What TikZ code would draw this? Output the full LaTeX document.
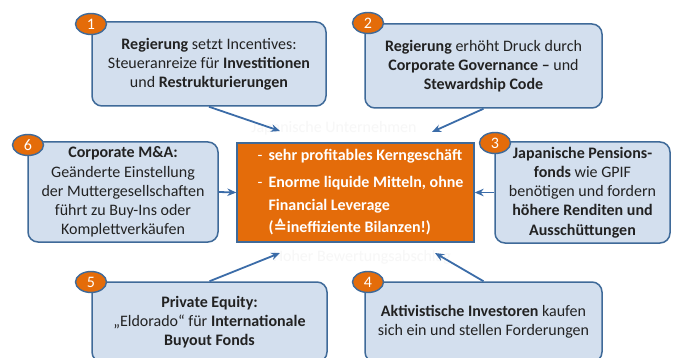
\documentclass[tikz,border=0pt]{standalone}
\usepackage{fontspec}
\setmainfont{Carlito}
\newfontfamily\symfont{DejaVu Sans}
\usetikzlibrary{arrows.meta,shapes.geometric}
\definecolor{boxfill}{HTML}{D3DFEE}
\definecolor{boxline}{HTML}{3F6A99}
\definecolor{arrowblue}{HTML}{3B6CA8}
\definecolor{coreorange}{HTML}{E46C0A}
\definecolor{txt}{HTML}{222222}
\begin{document}
\begin{tikzpicture}[x=1pt,y=-1pt,
  infobox/.style={draw=boxline, line width=1.5pt, fill=boxfill, rounded corners=10pt,
    inner sep=0pt, align=center, text=txt, font=\fontsize{16}{19.2}\selectfont},
  corebox/.style={draw=boxline, line width=1.3pt, fill=coreorange, inner sep=0pt,
    align=left, text=white, font=\bfseries\fontsize{16}{22.5}\selectfont},
  badge/.style={ellipse, draw=boxline, line width=1.4pt, fill=coreorange,
    minimum width=31pt, minimum height=21pt, inner sep=0pt, text=white,
    font=\fontsize{16}{16}\selectfont},
  ghost/.style={text=black!3, font=\fontsize{16}{16}\selectfont},
  link/.style={draw=arrowblue, line width=1.8pt, -{Stealth[length=9pt,width=7.5pt]}},
]
\useasboundingbox (0,0) rectangle (677,358);
\clip (0,0) rectangle (677,358);
\fill[white] (0,0) rectangle (677,358);

% faint captions around the core box
\node[ghost] (capTop) at (334,128) {Japanische Unternehmen};
\node[ghost] (capBot) at (362,257) {Hoher Bewertungsabschlag};

% core box (lines padded on the left to sit a little right of centre)
\node[corebox, minimum width=237pt, minimum height=99pt] (core) at (355.5,192.5)
  {\hspace*{10pt}\makebox[11pt][l]{\mdseries-}sehr profitables Kerngeschäft\\[4.5pt]
   \hspace*{10pt}\makebox[11pt][l]{\mdseries-}Enorme liquide Mitteln, ohne\\
   \hspace*{21pt}Financial Leverage\\
   \hspace*{21pt}({\symfont ≙}ineffiziente Bilanzen!)};

% driver boxes
\node[infobox, minimum width=234pt, minimum height=84pt] (b1) at (209,64)
  {\textbf{Regierung} setzt Incentives:\\
   Steueranreize für \textbf{Investitionen}\\
   und \textbf{Restrukturierungen}};
\node[infobox, minimum width=237pt, minimum height=84pt] (b2) at (483.5,66)
  {\textbf{Regierung} erhöht Druck durch\\
   \textbf{Corporate Governance –} und\\
   \textbf{Stewardship Code}};
\node[infobox, minimum width=175pt, minimum height=101pt] (b3) at (582.5,192.5)
  {\textbf{Japanische Pensions-}\\
   \textbf{fonds} wie GPIF\\
   benötigen und fordern\\
   \textbf{höhere Renditen und}\\
   \textbf{Ausschüttungen}};
\node[infobox, minimum width=237pt, minimum height=80pt] (b4) at (483.5,322)
  {\textbf{Aktivistische Investoren} kaufen\\
   sich ein und stellen Forderungen};
\node[infobox, minimum width=235pt, minimum height=80pt] (b5) at (209.5,322)
  {\textbf{Private Equity:}\\
   „Eldorado“ für \textbf{Internationale}\\
   \textbf{Buyout Fonds}};
\node[infobox, minimum width=190pt, minimum height=100pt] (b6) at (123,192)
  {\textbf{Corporate M\&A:}\\
   Geänderte Einstellung\\
   der Muttergesellschaften\\
   führt zu Buy-Ins oder\\
   Komplettverkäufen};

% number badges
\node[badge] (n1) at (91,24) {1};
\node[badge] (n2) at (368,23) {2};
\node[badge] (n3) at (495,143) {3};
\node[badge] (n4) at (368,282) {4};
\node[badge] (n5) at (91,282) {5};
\node[badge] (n6) at (28,145) {6};

% arrow targets near the core box
\coordinate (t1) at (280,131);
\coordinate (t2) at (432,132);
\coordinate (t4) at (435,253);
\coordinate (t5) at (280,253);

\draw[link] (b1.south) -- (t1);
\draw[link] (b2.south) -- (t2);
\draw[link] (b3.west) -- (core.east);
\draw[link] (b4.north) -- (t4);
\draw[link] (b5.north) -- (t5);
\draw[link] (b6.east) -- (core.west);
\end{tikzpicture}
\end{document}
